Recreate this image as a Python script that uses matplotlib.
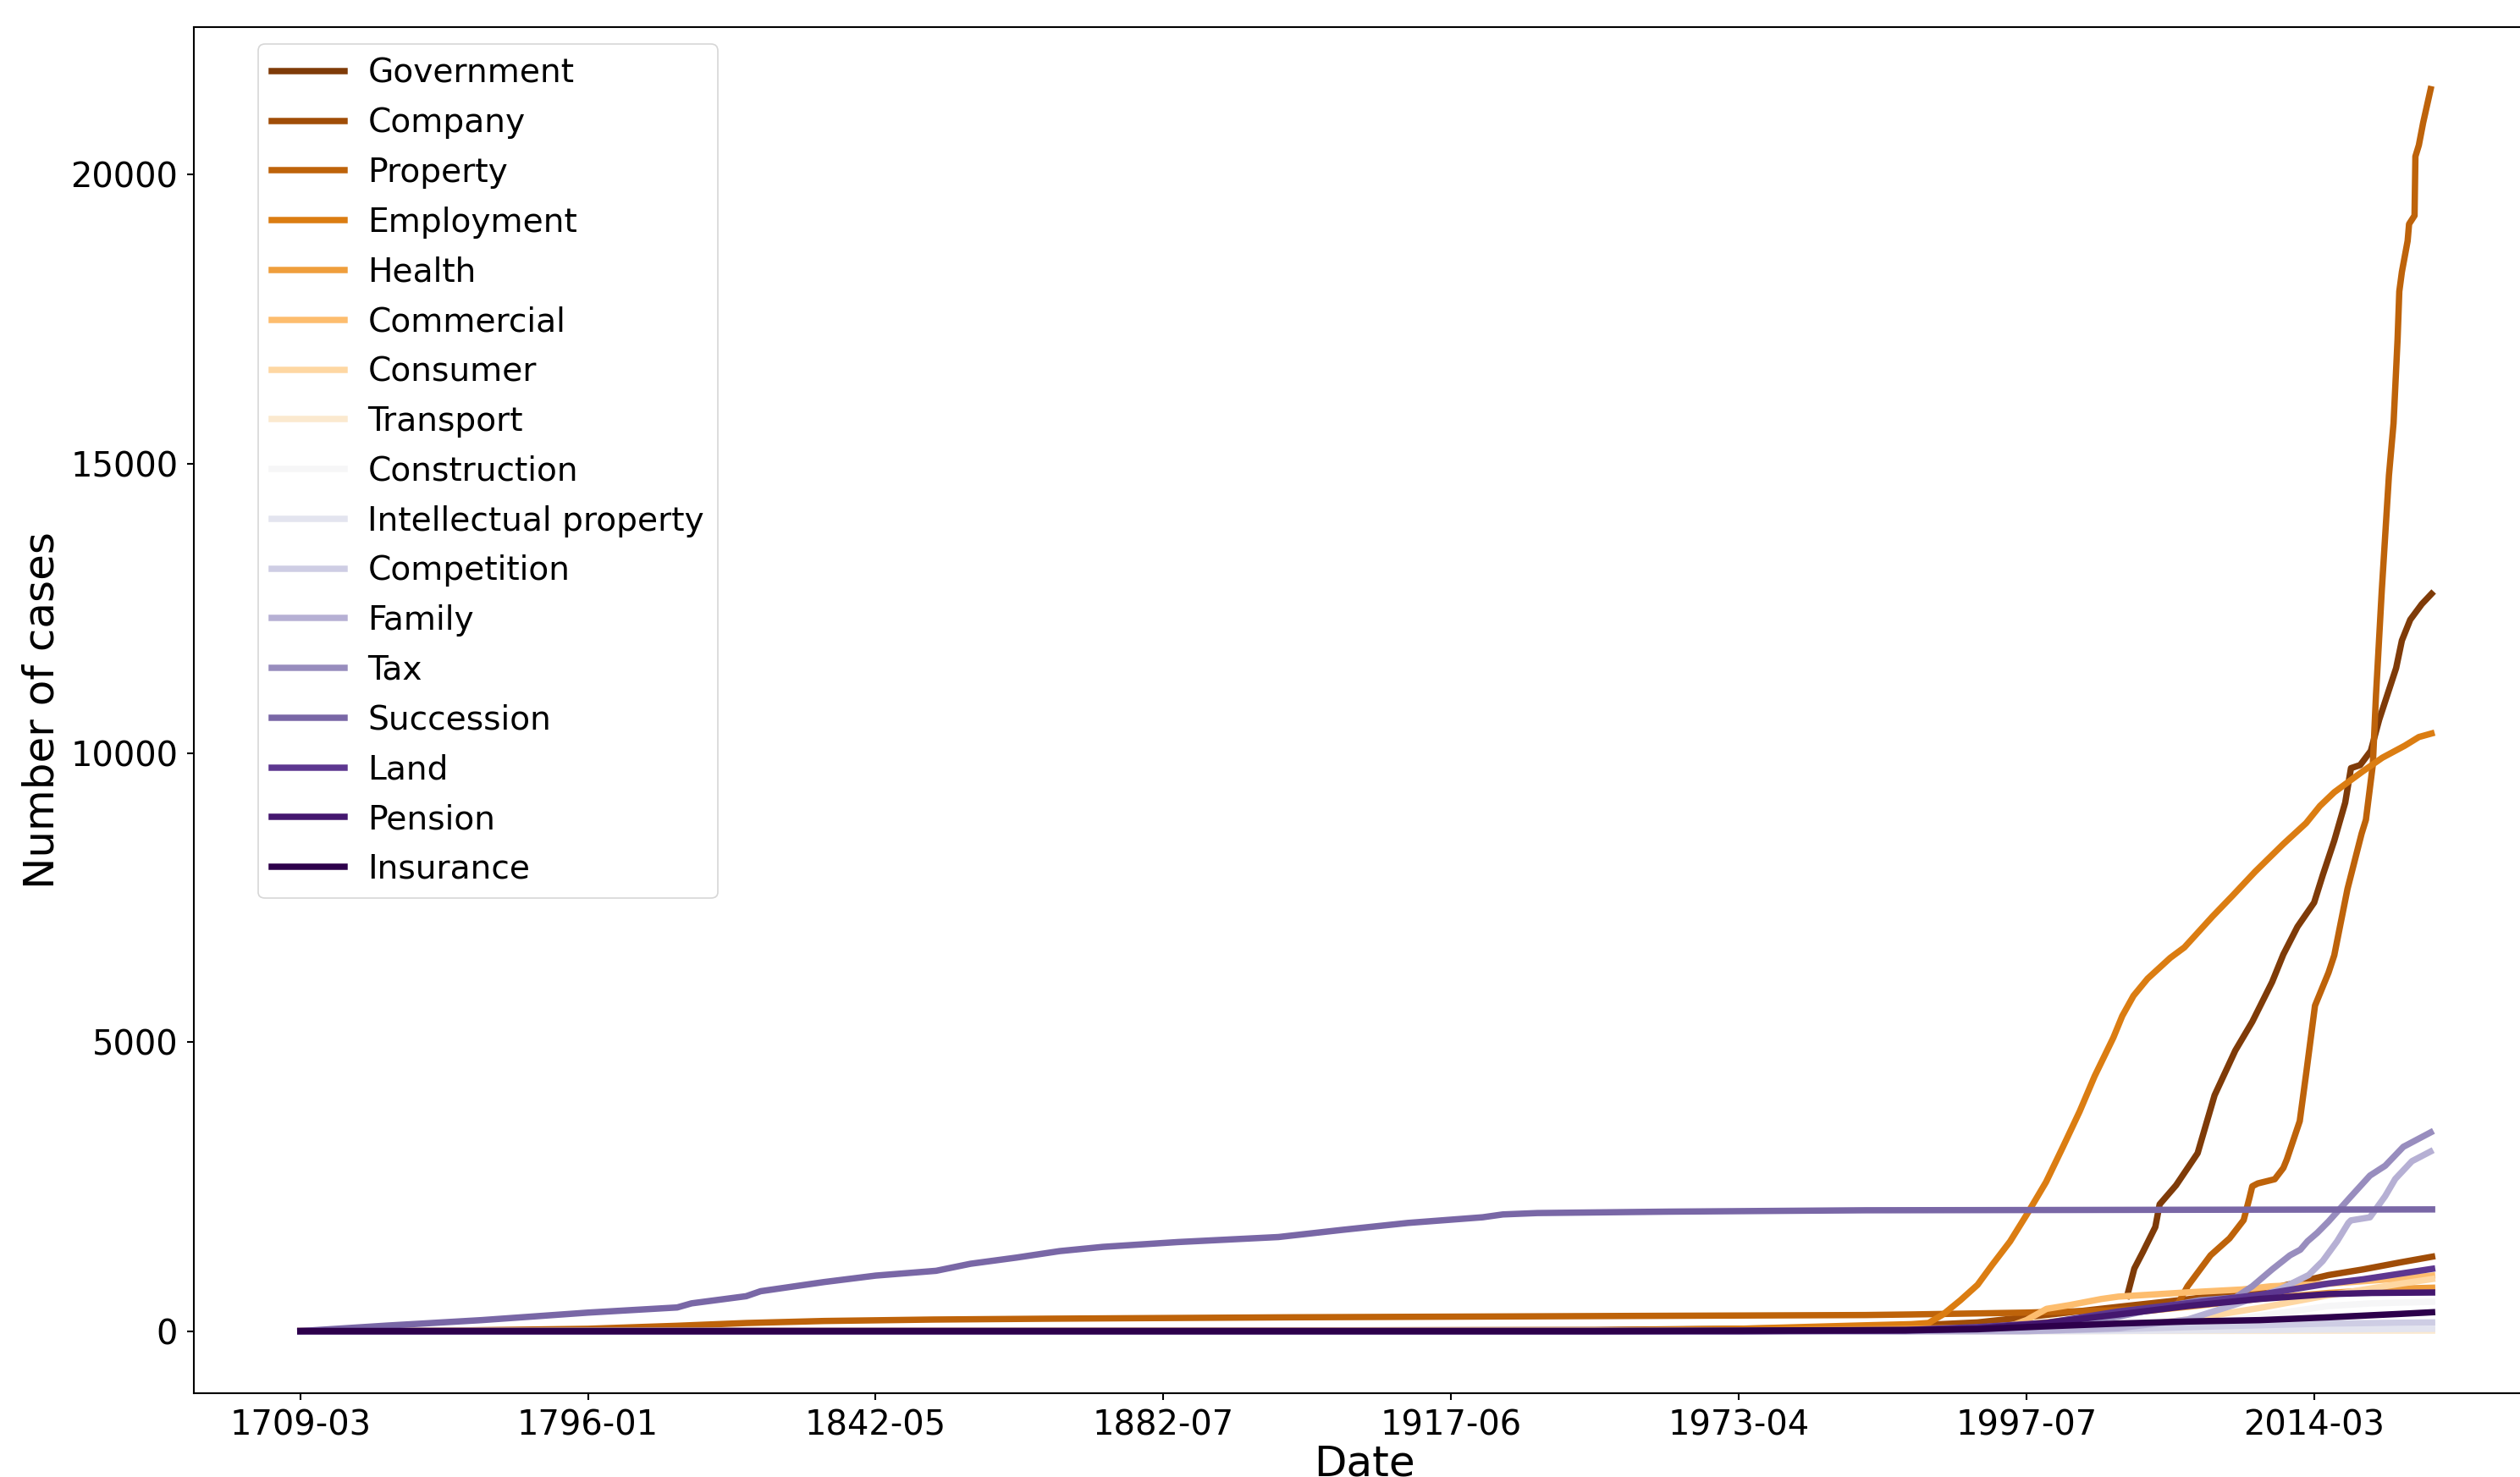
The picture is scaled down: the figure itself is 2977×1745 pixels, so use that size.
import numpy as np
import matplotlib
matplotlib.use("Agg")
import matplotlib.pyplot as plt

plt.rcParams['font.family'] = ['DejaVu Sans']

# ---------------- data ----------------
categories = ['Government', 'Company', 'Property', 'Employment', 'Health',
              'Commercial', 'Consumer', 'Transport', 'Construction',
              'Intellectual property', 'Competition', 'Family', 'Tax',
              'Succession', 'Land', 'Pension', 'Insurance']

# x positions are row numbers of the monthly date index (0 .. 740)
n_rows = 741
tick_rows = [0, 100, 200, 300, 400, 500, 600, 700]
tick_labels = ['1709-03', '1796-01', '1842-05', '1882-07', '1917-06',
               '1973-04', '1997-07', '2014-03']
y_ticks = [0, 5000, 10000, 15000, 20000]

government_rows = [635, 637.5, 640.4, 644.8, 646.3, 652, 659.5, 665.4, 672.6, 678.5,
                   685.4, 689.3, 694.2, 700, 703, 707, 710.8, 712.8, 716, 719.7,
                   722.6, 728.5, 730.5, 733.4, 737.4, 740.8]
government_vals = [608, 1082, 1360, 1801, 2193, 2522, 3077, 4079, 4853, 5350,
                   6038, 6516, 6993, 7412, 7887, 8484, 9140, 9737, 9790, 10036,
                   10573, 11468, 11944, 12304, 12573, 12752]

company_rows = [0, 200, 450, 544, 583, 607, 632, 656, 686, 705, 717, 730, 741]
company_vals = [0, 0, 20, 60, 150, 280, 420, 550, 747, 969, 1067, 1189, 1287]

property_rows = [0, 38, 100, 131, 155, 182, 220, 261, 345, 450, 544, 560, 600, 630,
                 652, 656, 664, 670.6, 675.5, 677.5, 678.5, 680.4, 686.3, 689.3,
                 690.5, 695, 697.4, 700.3, 705, 707, 709.2, 711.6, 716.5, 718,
                 720.4, 721.5, 723.5, 726, 727.6, 729, 729.6, 730.5, 732.5, 733,
                 734.9, 735.2, 736.4, 737.9, 740.5]
property_vals = [0, 0, 40, 92, 140, 175, 200, 215, 239, 260, 278, 288, 320, 360,
                 414, 775, 1311, 1604, 1920, 2300, 2505, 2554, 2627, 2822,
                 2968, 3632, 4520, 5629, 6200, 6500, 7052, 7649, 8604, 8845,
                 9797, 11000, 12800, 14800, 15700, 17149, 17982, 18319, 18856, 19148,
                 19294, 20317, 20512, 20902, 21480]

employment_rows = [0, 300, 450, 500, 544, 560, 566, 571, 577, 583, 588, 594.3, 600.2,
                   606.8, 612.7, 618.5, 623.7, 630.2, 633.3, 637.2, 642.1, 650,
                   654.9, 664.7, 671.6, 679.5, 689.3, 697.2, 702, 707, 716.8,
                   723.7, 731.5, 736.4, 740.8]
employment_vals = [0, 0, 10, 40, 100, 120, 141, 288, 532, 800, 1140, 1550, 2023,
                   2577, 3187, 3800, 4409, 5075, 5450, 5799, 6096, 6456,
                   6637, 7173, 7529, 7947, 8425, 8786, 9082, 9320, 9678,
                   9917, 10125, 10275, 10336]

health_rows = [0, 500, 560, 583, 607, 632, 656, 681, 705, 730, 741]
health_vals = [0, 10, 40, 60, 150, 300, 420, 560, 660, 735, 750]

commercial_rows = [0, 540, 570, 595, 600, 607, 615, 626, 632, 656, 675, 685, 705, 730, 741]
commercial_vals = [0, 0, 20, 100, 190, 385, 450, 555, 597, 670, 720, 775, 820, 910, 960]

consumer_rows = [0, 600, 630, 656, 681, 705, 730, 741]
consumer_vals = [0, 0, 50, 200, 400, 620, 820, 900]

transport_rows = [0, 600, 741]
transport_vals = [0, 0, 8]

construction_rows = [0, 600, 632, 656, 681, 705, 720, 741]
construction_vals = [0, 0, 19, 92, 263, 434, 480, 507]

ip_rows = [0, 620, 741]
ip_vals = [0, 0, 40]

competition_rows = [0, 580, 607, 632, 656, 681, 705, 741]
competition_vals = [0, 0, 5, 34, 68, 102, 131, 151]

family_rows = [0, 600, 632, 656, 672, 688.3, 698.1, 703, 708, 711.9, 712.8, 719.4,
               724.7, 728.2, 734, 740.4]
family_vals = [0, 0, 50, 200, 450, 727, 970, 1213, 1554, 1871, 1915, 1968,
               2335, 2632, 2939, 3105]

tax_rows = [0, 558, 583, 607, 632, 650, 660, 672.6, 678.5, 685.4, 691.6, 695.2,
            697.7, 701.1, 705, 712.9, 719.4, 724.7, 731, 740.5]
tax_vals = [0, 0, 30, 100, 250, 440, 531, 580, 775, 1067, 1311, 1408,
            1554, 1700, 1896, 2335, 2690, 2860, 3187, 3437]

succession_rows = [0, 30, 63, 100, 131, 136, 155, 160, 182, 200, 221, 233, 249, 264,
                   279, 305, 340, 362, 385, 411, 418, 430, 475, 544, 741]
succession_vals = [0, 95, 190, 320, 409, 480, 604, 690, 848, 960, 1043, 1165, 1272, 1384,
                   1457, 1540, 1627, 1750, 1871, 1969, 2018, 2042, 2066, 2090, 2105]

land_rows = [0, 500, 558, 583, 607, 632, 656, 681, 705, 717, 730, 741]
land_vals = [0, 0, 19, 70, 141, 340, 482, 628, 823, 896, 994, 1077]

pension_rows = [0, 500, 558, 583, 607, 632, 656, 681, 705, 720, 741]
pension_vals = [0, 0, 10, 44, 141, 288, 434, 556, 640, 660, 668]

insurance_rows = [0, 450, 558, 583, 607, 632, 656, 681, 705, 730, 741]
insurance_vals = [0, 0, 19, 34, 83, 131, 166, 190, 239, 298, 326]

series = [
    (government_rows, government_vals), (company_rows, company_vals),
    (property_rows, property_vals), (employment_rows, employment_vals),
    (health_rows, health_vals), (commercial_rows, commercial_vals),
    (consumer_rows, consumer_vals), (transport_rows, transport_vals),
    (construction_rows, construction_vals), (ip_rows, ip_vals),
    (competition_rows, competition_vals), (family_rows, family_vals),
    (tax_rows, tax_vals), (succession_rows, succession_vals),
    (land_rows, land_vals), (pension_rows, pension_vals),
    (insurance_rows, insurance_vals),
]

# ---------------- figure ----------------
W, H, DPI = 2978, 1745, 300
fig = plt.figure(figsize=(W / DPI, H / DPI), dpi=DPI)
# axes extend slightly beyond the right/bottom edge, as in the reference crop
ax = fig.add_axes([229 / W, 99 / H, 2766.5 / W, 1614 / H])

colors = plt.get_cmap('PuOr')(np.linspace(0, 1, len(categories)))
for name, (rows, vals), c in zip(categories, series, colors):
    ax.plot(rows, vals, color=c, lw=1.8, label=name)

span = n_rows - 1
ax.set_xlim(-0.05 * span, 1.05 * span)
ax.set_ylim(-1074, 22554)
ax.set_xticks(tick_rows)
ax.set_xticklabels(tick_labels)
ax.set_yticks(y_ticks)
ax.tick_params(labelsize=9.6, length=2, width=0.5, pad=2.5)
for s in ax.spines.values():
    s.set_linewidth(0.5)

ax.set_ylabel('Number of cases', fontsize=12)
ax.yaxis.set_label_coords(-0.0649, 0.5)
ax.yaxis.label.set_verticalalignment('center')
ax.set_xlabel('Date', fontsize=12)
ax.xaxis.set_label_coords(0.5, -0.0366)

leg = ax.legend(loc='upper left', bbox_to_anchor=(0.0275, 0.9876), borderaxespad=0,
                fontsize=9.4, labelspacing=0.53, handlelength=2.2,
                handletextpad=0.7, borderpad=0.4)
leg.get_frame().set_linewidth(0.4)

fig.savefig('out.png', dpi=DPI)
